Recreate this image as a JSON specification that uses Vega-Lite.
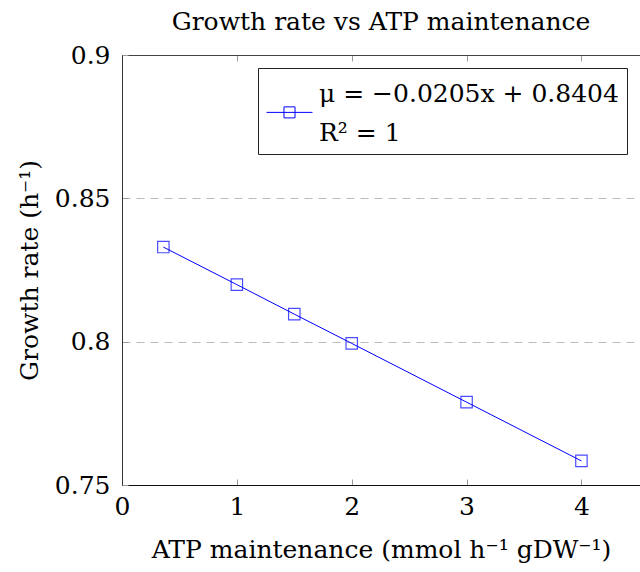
{
  "$schema": "https://vega.github.io/schema/vega-lite/v6.json",
  "autosize": "none",
  "padding": {"left": 122, "top": 55, "right": 0, "bottom": 87},
  "width": 518,
  "height": 430,
  "background": "white",
  "config": {
    "view": {"stroke": null},
    "font": "DejaVu Serif"
  },
  "title": {
    "text": "Growth rate vs ATP maintenance",
    "font": "DejaVu Serif",
    "fontSize": 25,
    "fontWeight": "normal",
    "color": "black",
    "offset": 8
  },
  "data": {
    "values": [
      {"atp": 0.36, "mu": 0.8330, "series": "fit"},
      {"atp": 1.0, "mu": 0.8199, "series": "fit"},
      {"atp": 1.5, "mu": 0.8096, "series": "fit"},
      {"atp": 2.0, "mu": 0.7994, "series": "fit"},
      {"atp": 3.0, "mu": 0.7789, "series": "fit"},
      {"atp": 4.0, "mu": 0.7584, "series": "fit"}
    ]
  },
  "encoding": {
    "x": {
      "field": "atp", "type": "quantitative",
      "scale": {"domain": [0, 4.51], "nice": false, "zero": false}
    },
    "y": {
      "field": "mu", "type": "quantitative",
      "scale": {"domain": [0.75, 0.9], "nice": false, "zero": false},
      "axis": {
        "values": [0.75, 0.8, 0.85, 0.9],
        "format": ".2~f",
        "title": "Growth rate (h⁻¹)",
        "titleFont": "DejaVu Serif",
        "titleFontSize": 25,
        "titleFontWeight": "normal",
        "titleColor": "black",
        "titlePadding": 12,
        "labelFont": "DejaVu Serif",
        "labelFontSize": 25,
        "labelColor": "black",
        "labelPadding": 18,
        "tickSize": -6,
        "tickColor": "#999",
        "domainColor": "#333",
        "grid": true,
        "gridColor": "#bbb",
        "gridDash": [8, 6],
        "labelFlush": false
      }
    },
    "color": {
      "field": "series", "type": "nominal",
      "scale": {"range": ["#0000ff"]},
      "legend": {
        "orient": "none",
        "legendX": 136,
        "legendY": 13,
        "title": null,
        "strokeColor": "#222",
        "fillColor": "white",
        "padding": 8,
        "labelExpr": "['μ = −0.0205x + 0.8404 ', 'R² = 1']",
        "labelFont": "DejaVu Serif",
        "labelFontSize": 25,
        "labelColor": "black",
        "labelLimit": 0,
        "labelOffset": 6,
        "symbolType": "M-1,0.56H1M-0.24,0.32H0.24V0.8H-0.24Z",
        "symbolSize": 2116,
        "symbolStrokeColor": "#0000ff",
        "symbolFillColor": "transparent",
        "symbolStrokeWidth": 1,
        "encode": {
          "labels": {
            "update": {
              "lineHeight": {"value": 39},
              "dy": {"value": -6}
            }
          }
        }
      }
    }
  },
  "layer": [
    {
      "mark": {"type": "line", "strokeWidth": 1},
      "encoding": {
        "x": {
          "field": "atp", "type": "quantitative",
          "axis": {
            "orient": "bottom",
            "values": [0, 1, 2, 3, 4],
            "title": "ATP maintenance (mmol h⁻¹ gDW⁻¹)",
            "titleFont": "DejaVu Serif",
            "titleFontSize": 25,
            "titleFontWeight": "normal",
            "titleColor": "black",
            "titlePadding": 18,
            "labelFont": "DejaVu Serif",
            "labelFontSize": 25,
            "labelColor": "black",
            "labelPadding": 15,
            "labelFlush": false,
            "tickSize": -6,
            "tickColor": "#999",
            "domainColor": "#111",
            "grid": false
          }
        }
      }
    },
    {
      "mark": {"type": "point", "shape": "square", "size": 130, "filled": false, "strokeWidth": 1.2},
      "encoding": {
        "x": {
          "field": "atp", "type": "quantitative",
          "axis": {
            "orient": "top",
            "values": [0, 1, 2, 3, 4],
            "title": null,
            "labels": false,
            "tickSize": -6,
            "tickColor": "#999",
            "domainColor": "#444",
            "grid": false
          }
        }
      }
    }
  ],
  "resolve": {"axis": {"x": "independent"}}
}
